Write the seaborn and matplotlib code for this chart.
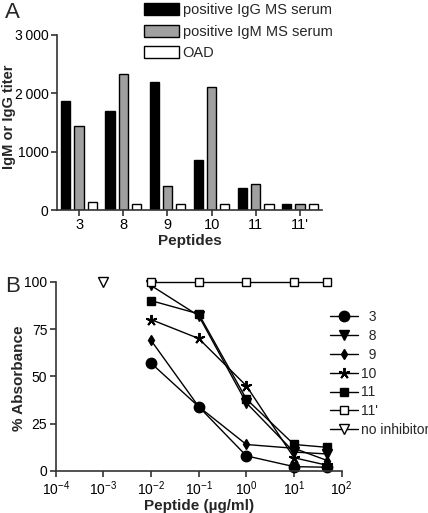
import matplotlib
matplotlib.use("Agg")
import matplotlib.pyplot as plt
import seaborn as sns
import pandas as pd
import numpy as np
from matplotlib.lines import Line2D

# ---- Panel A data ----
peptides = ["3", "8", "9", "10", "11", "11'"]
igg_titer = [1860, 1700, 2190, 850, 380, 100]
igm_titer = [1440, 2330, 410, 2100, 450, 100]
oad_titer = [140, 100, 100, 100, 100, 100]
series_a = ["positive IgG MS serum", "positive IgM MS serum", "OAD"]
colors_a = ["#000000", "#a0a0a0", "#ffffff"]
ytick_vals_a = [0, 1000, 2000, 3000]
ytick_labels_a = ["0", "1000", "2\u2009000", "3\u2009000"]

# ---- Panel B data ----
conc = [0.01, 0.1, 1, 10, 50]
curves_b = {
    "3": [57, 34, 8, 2.3, 2],
    "8": [98, 82, 36, 10, 9],
    "9": [69, 34, 14, 12, 5.5],
    "10": [80, 70, 45, 7, 3],
    "11": [90, 83, 38, 14, 12.5],
    "11'": [100, 100, 100, 100, 100],
}
no_inhib_x = [0.001]
no_inhib_y = [100]
legend_labels_b = ["  3", "  8", "  9", "10", "11", "11'", "no inhibitor"]

sns.set_theme(style="ticks")
plt.rcParams["font.family"] = ["Liberation Sans", "DejaVu Sans"]
plt.rcParams["mathtext.default"] = "regular"
plt.rcParams["axes.edgecolor"] = "#333333"
plt.rcParams["xtick.color"] = "#333333"
plt.rcParams["ytick.color"] = "#333333"
plt.rcParams["xtick.labelcolor"] = "black"
plt.rcParams["ytick.labelcolor"] = "black"

fig = plt.figure(figsize=(4.28, 5.13), dpi=100)

# ---------------- Panel A ----------------
axA_l, axA_r, axA_t, axA_b = 57, 322, 35, 210
axA = fig.add_axes([axA_l/428, 1-axA_b/513, (axA_r-axA_l)/428, (axA_b-axA_t)/513])
df = pd.DataFrame({
    "Peptide": peptides * 3,
    "titer": igg_titer + igm_titer + oad_titer,
    "serum": sum([[s]*len(peptides) for s in series_a], []),
})
sns.barplot(data=df, x="Peptide", y="titer", hue="serum", order=peptides,
            hue_order=series_a, palette=colors_a, edgecolor="black",
            linewidth=1.0, width=0.9, gap=0.3, ax=axA, saturation=1)
axA.set_ylim(0, 3000)
axA.set_xlim(-0.5, 5.5)
axA.set_yticks(ytick_vals_a)
axA.set_yticklabels(ytick_labels_a, fontsize=10)
axA.tick_params(axis="x", labelsize=10.5, length=4, width=1.2, pad=2)
axA.tick_params(axis="y", length=4, width=1.2, pad=2)
axA.set_ylabel("IgM or IgG titer", fontsize=10.5, fontweight="bold")
axA.yaxis.set_label_coords((16-axA_l)/(axA_r-axA_l), (axA_b-117)/(axA_b-axA_t))
axA.set_xlabel("Peptides", fontsize=11, fontweight="bold", labelpad=1)
for s in ["left", "bottom"]:
    axA.spines[s].set_linewidth(1.2)
sns.despine(ax=axA)
leg = axA.legend(loc="lower left", bbox_to_anchor=(144/428, 1-60/513),
                 bbox_transform=fig.transFigure, frameon=False, fontsize=10.5,
                 handlelength=2.4, handleheight=0.9, handletextpad=0.25,
                 labelspacing=0.5, borderaxespad=0, borderpad=0)
fig.text(5/428, 1-13/513, "A", fontsize=16, va="center", ha="left")

# ---------------- Panel B ----------------
axB_l, axB_r, axB_t, axB_b = 55.7, 341.7, 281.7, 471
axB = fig.add_axes([axB_l/428, 1-axB_b/513, (axB_r-axB_l)/428, (axB_b-axB_t)/513])
styles = {
    "3": dict(marker="o", markersize=7.5, markerfacecolor="black"),
    "8": dict(marker="v", markersize=6.5, markerfacecolor="black"),
    "9": dict(marker="d", markersize=5.5, markerfacecolor="black"),
    "10": dict(marker=(5, 2, 0), markersize=8, markerfacecolor="black", markeredgewidth=1.4),
    "11": dict(marker="s", markersize=6, markerfacecolor="black"),
    "11'": dict(marker="s", markersize=6, markerfacecolor="white"),
}
handles = []
for name, vals in curves_b.items():
    st = dict(styles[name])
    mew = st.pop("markeredgewidth", 1.0)
    sns.lineplot(x=conc, y=vals, color="black", linewidth=1.0, ax=axB,
                 markeredgecolor="black", markeredgewidth=mew, **st)
    handles.append(axB.lines[-1])
sns.lineplot(x=no_inhib_x, y=no_inhib_y, color="black", linewidth=1.0, ax=axB,
             marker="v", markersize=7, markerfacecolor="white",
             markeredgecolor="black", markeredgewidth=1.0)
h_no = Line2D([], [], color="black", linewidth=1.0, marker="v", markersize=7,
              markerfacecolor="white", markeredgecolor="black")
handles.append(h_no)
for ln in axB.lines:
    ln.set_clip_on(False)

axB.set_xscale("log")
axB.set_xlim(1e-4, 1e2)
axB.set_ylim(0, 100)
axB.set_xticks([1e-4, 1e-3, 1e-2, 1e-1, 1e0, 1e1, 1e2])
axB.set_xticklabels(["10$^{-4}$", "10$^{-3}$", "10$^{-2}$", "10$^{-1}$",
                     "10$^{0}$", "10$^{1}$", "10$^{2}$"], fontsize=10)
axB.xaxis.set_minor_locator(matplotlib.ticker.NullLocator())
axB.set_yticks([0, 25, 50, 75, 100])
axB.tick_params(axis="y", labelsize=10, length=4, width=1.2, pad=2)
axB.tick_params(axis="x", length=4, width=1.2, pad=2)
axB.set_ylabel("% Absorbance", fontsize=11, fontweight="bold")
axB.yaxis.set_label_coords((26-axB_l)/(axB_r-axB_l), (axB_b-378)/(axB_b-axB_t))
axB.set_xlabel("Peptide (µg/ml)", fontsize=11, fontweight="bold", labelpad=1)
for s in ["left", "bottom"]:
    axB.spines[s].set_linewidth(1.2)
sns.despine(ax=axB)
axB.legend(handles, legend_labels_b, loc="upper left",
           bbox_to_anchor=(330/428, 1-310/513), bbox_transform=fig.transFigure,
           frameon=False, fontsize=10, handlelength=2.0, handletextpad=0.2,
           labelspacing=0.35, borderaxespad=0, borderpad=0)
fig.text(5/428, 1-286/513, "B", fontsize=16, va="center", ha="left")

fig.savefig("out.png", dpi=100)
